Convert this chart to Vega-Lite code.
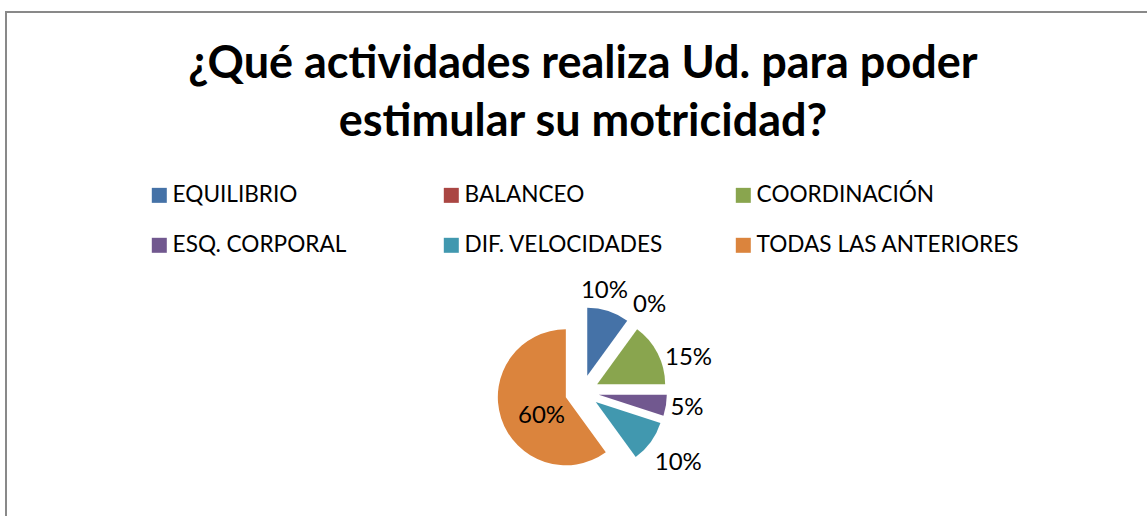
{
  "$schema": "https://vega.github.io/schema/vega-lite/v6.json",
  "width": 1143,
  "height": 506,
  "autosize": {"type": "none"},
  "padding": {"left": 6, "top": 12, "right": -2, "bottom": -2},
  "background": "white",
  "view": {"stroke": "#898989", "strokeWidth": 2},
  "config": {
    "view": {"stroke": "#898989", "strokeWidth": 2},
    "font": "Lato"
  },
  "title": {
    "text": ["¿Qué actividades realiza Ud. para poder", "estimular su motricidad?"],
    "anchor": "middle",
    "frame": "group",
    "baseline": "alphabetic",
    "offset": -103,
    "dy": 66,
    "dx": 5.5,
    "lineHeight": 58,
    "font": "Lato",
    "fontSize": 45,
    "fontWeight": "bold",
    "color": "#000000"
  },
  "data": {
    "values": [
      {"cat": "EQUILIBRIO", "value": 0.10, "orden": 1},
      {"cat": "BALANCEO", "value": 0.0, "orden": 2},
      {"cat": "COORDINACIÓN", "value": 0.15, "orden": 3},
      {"cat": "ESQ. CORPORAL", "value": 0.05, "orden": 4},
      {"cat": "DIF. VELOCIDADES", "value": 0.10, "orden": 5},
      {"cat": "TODAS LAS ANTERIORES", "value": 0.60, "orden": 6}
    ]
  },
  "transform": [
    {"stack": "value", "groupby": [], "sort": [{"field": "orden", "order": "ascending"}], "as": ["v0", "v1"]}
  ],
  "layer": [
    {
      "transform": [{"filter": "datum.cat === 'EQUILIBRIO'"}],
      "mark": {"type": "arc", "radius": 68, "xOffset": 9.75, "yOffset": 110.83},
      "encoding": {
        "theta": {"field": "v0", "type": "quantitative", "scale": {"domain": [0, 1]}},
        "theta2": {"field": "v1"},
        "color": {
          "field": "cat", "type": "nominal",
          "scale": {
            "domain": ["EQUILIBRIO", "BALANCEO", "COORDINACIÓN", "ESQ. CORPORAL", "DIF. VELOCIDADES", "TODAS LAS ANTERIORES"],
            "range": ["#4572A7", "#AA4643", "#89A54E", "#71588F", "#4198AF", "#DB843D"]
          },
          "legend": {
            "orient": "none", "legendX": 142, "legendY": 172,
            "direction": "horizontal", "columns": 3, "gridAlign": "all",
            "columnPadding": 4, "rowPadding": 27, "padding": 0,
            "title": null, "symbolType": "square", "symbolSize": 225,
            "symbolStrokeWidth": 0, "symbolOpacity": 1,
            "labelFont": "Lato", "labelFontSize": 22.6, "labelColor": "#000000",
            "labelOffset": 2, "labelLimit": 400
          }
        }
      }
    },
    {
      "transform": [{"filter": "datum.cat === 'COORDINACIÓN'"}],
      "mark": {"type": "arc", "radius": 68, "xOffset": 19.65, "yOffset": 119.28},
      "encoding": {
        "theta": {"field": "v0", "type": "quantitative", "scale": {"domain": [0, 1]}},
        "theta2": {"field": "v1"},
        "color": {"field": "cat", "type": "nominal"}
      }
    },
    {
      "transform": [{"filter": "datum.cat === 'ESQ. CORPORAL'"}],
      "mark": {"type": "arc", "radius": 68, "xOffset": 21.29, "yOffset": 129.66},
      "encoding": {
        "theta": {"field": "v0", "type": "quantitative", "scale": {"domain": [0, 1]}},
        "theta2": {"field": "v1"},
        "color": {"field": "cat", "type": "nominal"}
      }
    },
    {
      "transform": [{"filter": "datum.cat === 'DIF. VELOCIDADES'"}],
      "mark": {"type": "arc", "radius": 68, "xOffset": 18.25, "yOffset": 136.99},
      "encoding": {
        "theta": {"field": "v0", "type": "quantitative", "scale": {"domain": [0, 1]}},
        "theta2": {"field": "v1"},
        "color": {"field": "cat", "type": "nominal"}
      }
    },
    {
      "transform": [{"filter": "datum.cat === 'TODAS LAS ANTERIORES'"}],
      "mark": {"type": "arc", "radius": 68, "xOffset": -11.67, "yOffset": 132.25},
      "encoding": {
        "theta": {"field": "v0", "type": "quantitative", "scale": {"domain": [0, 1]}},
        "theta2": {"field": "v1"},
        "color": {"field": "cat", "type": "nominal"}
      }
    },
    {
      "mark": {"type": "text", "radius": 105, "xOffset": -5.5, "yOffset": 125.4, "fontSize": 24, "font": "Lato", "color": "#000000", "align": "center", "baseline": "middle"},
      "encoding": {
        "theta": {"field": "value", "type": "quantitative", "stack": true, "scale": {"domain": [0, 1]}},
        "order": {"field": "orden", "type": "quantitative"},
        "detail": {"field": "cat"},
        "text": {"condition": {"test": "datum.cat === 'EQUILIBRIO'", "field": "value", "type": "quantitative", "format": ".0%"}, "value": ""}
      }
    },
    {
      "mark": {"type": "text", "radius": 111.6, "xOffset": 6.5, "yOffset": 130.4, "fontSize": 24, "font": "Lato", "color": "#000000", "align": "center", "baseline": "middle"},
      "encoding": {
        "theta": {"field": "value", "type": "quantitative", "stack": true, "scale": {"domain": [0, 1]}},
        "order": {"field": "orden", "type": "quantitative"},
        "detail": {"field": "cat"},
        "text": {"condition": {"test": "datum.cat === 'BALANCEO'", "field": "value", "type": "quantitative", "format": ".0%"}, "value": ""}
      }
    },
    {
      "mark": {"type": "text", "radius": 111, "xOffset": 12.1, "yOffset": 143.3, "fontSize": 24, "font": "Lato", "color": "#000000", "align": "center", "baseline": "middle"},
      "encoding": {
        "theta": {"field": "value", "type": "quantitative", "stack": true, "scale": {"domain": [0, 1]}},
        "order": {"field": "orden", "type": "quantitative"},
        "detail": {"field": "cat"},
        "text": {"condition": {"test": "datum.cat === 'COORDINACIÓN'", "field": "value", "type": "quantitative", "format": ".0%"}, "value": ""}
      }
    },
    {
      "mark": {"type": "text", "radius": 106, "xOffset": 4.8, "yOffset": 126.4, "fontSize": 24, "font": "Lato", "color": "#000000", "align": "center", "baseline": "middle"},
      "encoding": {
        "theta": {"field": "value", "type": "quantitative", "stack": true, "scale": {"domain": [0, 1]}},
        "order": {"field": "orden", "type": "quantitative"},
        "detail": {"field": "cat"},
        "text": {"condition": {"test": "datum.cat === 'ESQ. CORPORAL'", "field": "value", "type": "quantitative", "format": ".0%"}, "value": ""}
      }
    },
    {
      "mark": {"type": "text", "radius": 119, "xOffset": 4.5, "yOffset": 128.4, "fontSize": 24, "font": "Lato", "color": "#000000", "align": "center", "baseline": "middle"},
      "encoding": {
        "theta": {"field": "value", "type": "quantitative", "stack": true, "scale": {"domain": [0, 1]}},
        "order": {"field": "orden", "type": "quantitative"},
        "detail": {"field": "cat"},
        "text": {"condition": {"test": "datum.cat === 'DIF. VELOCIDADES'", "field": "value", "type": "quantitative", "format": ".0%"}, "value": ""}
      }
    },
    {
      "mark": {"type": "text", "radius": 45.6, "xOffset": 7.4, "yOffset": 137.3, "fontSize": 24, "font": "Lato", "color": "#000000", "align": "center", "baseline": "middle"},
      "encoding": {
        "theta": {"field": "value", "type": "quantitative", "stack": true, "scale": {"domain": [0, 1]}},
        "order": {"field": "orden", "type": "quantitative"},
        "detail": {"field": "cat"},
        "text": {"condition": {"test": "datum.cat === 'TODAS LAS ANTERIORES'", "field": "value", "type": "quantitative", "format": ".0%"}, "value": ""}
      }
    }
  ]
}
